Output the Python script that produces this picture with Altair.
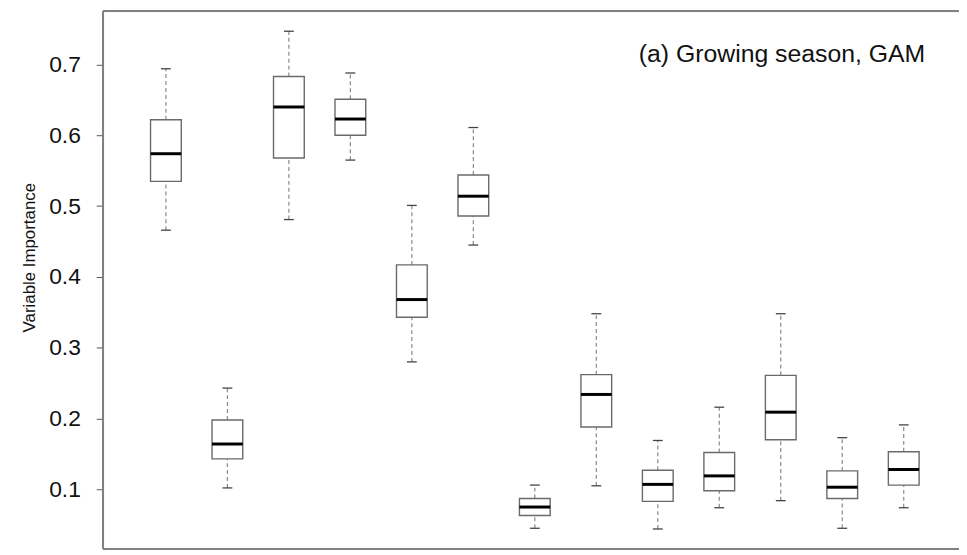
import altair as alt
import pandas as pd

# group index (13 predictors, no x labels shown)
groups = list(range(1, 14))
upper_whisker = [0.694, 0.243, 0.747, 0.688, 0.501, 0.611, 0.106, 0.348, 0.169, 0.216, 0.348, 0.173, 0.191]
q3 = [0.622, 0.198, 0.683, 0.651, 0.417, 0.544, 0.087, 0.262, 0.127, 0.152, 0.261, 0.126, 0.153]
median = [0.574, 0.164, 0.640, 0.623, 0.368, 0.514, 0.075, 0.234, 0.107, 0.119, 0.209, 0.103, 0.128]
q1 = [0.535, 0.143, 0.568, 0.600, 0.343, 0.486, 0.063, 0.188, 0.083, 0.098, 0.170, 0.087, 0.106]
lower_whisker = [0.466, 0.102, 0.481, 0.565, 0.280, 0.445, 0.045, 0.105, 0.044, 0.074, 0.084, 0.045, 0.074]

y_ticks = [0.1, 0.2, 0.3, 0.4, 0.5, 0.6, 0.7]
panel_label = "(a) Growing season, GAM"
y_title = "Variable Importance"

df = pd.DataFrame({
    "g": groups,
    "hi": upper_whisker,
    "q3": q3,
    "med": median,
    "q1": q1,
    "lo": lower_whisker,
})

W, H = 863, 542
FONT = "Liberation Sans"

xs = alt.Scale(domain=[-0.02, 13.899], nice=False, zero=False)
ys = alt.Scale(domain=[0.0161, 0.7752], nice=False, zero=False)

base = alt.Chart(df).transform_calculate(
    bl="datum.g - 0.25", br="datum.g + 0.25",
    cl="datum.g - 0.08", cr="datum.g + 0.08",
)

yaxis = alt.Axis(
    values=y_ticks, format=".1f", grid=False, domain=False,
    tickSize=7, tickColor="#555555", tickWidth=1,
    labelFontSize=23, labelFont=FONT, labelColor="#111111", labelPadding=16,
    title=y_title, titleFont=FONT, titleFontSize=17, titleFontWeight="normal",
    titleColor="#111111", titleAngle=270, titleX=-69, titleY=248,
    titleAlign="center", titleBaseline="alphabetic",
)

whisk_up = base.mark_rule(color="#8a8a8a", strokeWidth=1.2, strokeDash=[4, 3]).encode(
    x=alt.X("g:Q", scale=xs, axis=None),
    y=alt.Y("q3:Q", scale=ys, axis=yaxis),
    y2="hi:Q",
)
whisk_dn = base.mark_rule(color="#8a8a8a", strokeWidth=1.2, strokeDash=[4, 3]).encode(
    x=alt.X("g:Q", scale=xs), y=alt.Y("lo:Q", scale=ys), y2="q1:Q",
)
cap_hi = base.mark_rule(color="#444444", strokeWidth=1.3).encode(
    x=alt.X("cl:Q", scale=xs), x2="cr:Q", y=alt.Y("hi:Q", scale=ys),
)
cap_lo = base.mark_rule(color="#444444", strokeWidth=1.3).encode(
    x=alt.X("cl:Q", scale=xs), x2="cr:Q", y=alt.Y("lo:Q", scale=ys),
)
boxes = base.mark_bar(fill="white", stroke="#6a6a6a", strokeWidth=1.4).encode(
    x=alt.X("bl:Q", scale=xs), x2="br:Q",
    y=alt.Y("q1:Q", scale=ys), y2="q3:Q",
)
meds = base.mark_rule(color="#000000", strokeWidth=3).encode(
    x=alt.X("bl:Q", scale=xs), x2="br:Q", y=alt.Y("med:Q", scale=ys),
)

label = alt.Chart(pd.DataFrame({"t": [panel_label], "x": [13.35], "y": [0.703]})).mark_text(
    align="right", baseline="alphabetic", font=FONT, fontSize=25, color="#111111",
).encode(x=alt.X("x:Q", scale=xs), y=alt.Y("y:Q", scale=ys), text="t:N")

frame_left = alt.Chart(df).mark_rule(color="#808080", strokeWidth=1.2).encode(
    x=alt.value(0), y=alt.value(0), y2=alt.value(H)
)
frame_top = alt.Chart(df).mark_rule(color="#808080", strokeWidth=1.2).encode(
    x=alt.value(0), x2=alt.value(W), y=alt.value(0)
)
frame_bot = alt.Chart(df).mark_rule(color="#808080", strokeWidth=1.2).encode(
    x=alt.value(0), x2=alt.value(W), y=alt.value(H)
)

chart = alt.layer(
    whisk_up, whisk_dn, cap_hi, cap_lo, boxes, meds, label,
    frame_left, frame_top, frame_bot,
).properties(
    width=W, height=H,
    autosize=alt.AutoSizeParams(type="none"),
    padding={"left": 96, "top": 1, "right": 0, "bottom": 1},
).configure_view(stroke=None).configure(background="white")

chart.save("out.html", embed_options={"renderer": "svg", "actions": False})
